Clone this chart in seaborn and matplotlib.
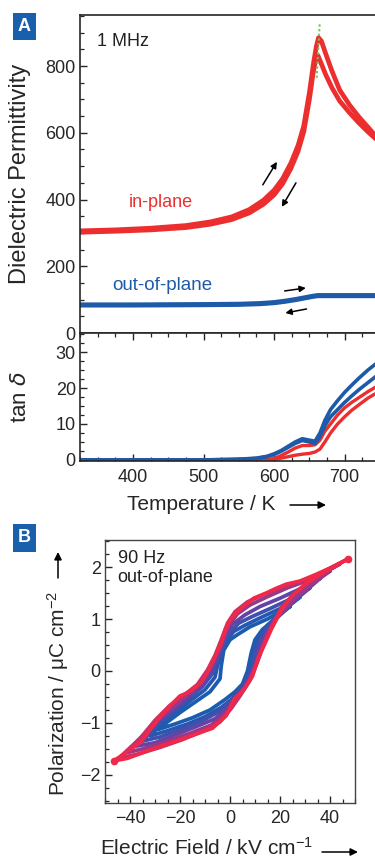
import numpy as np
import matplotlib
matplotlib.use("Agg")
import matplotlib.pyplot as plt
from matplotlib.patches import FancyArrowPatch
from matplotlib.ticker import MultipleLocator
import seaborn as sns

# ---- panel A: permittivity vs temperature (1 MHz)
T_heat = [325, 375, 425, 475, 510, 540, 565, 585, 600, 612, 624, 634, 642, 650, 656, 660, 663, 667, 673, 682, 693, 707, 720, 733, 746]
eps_heat = [306, 309, 314, 322, 333, 348, 370, 398, 428, 462, 510, 562, 620, 720, 810, 860, 885, 875, 838, 785, 728, 683, 648, 617, 585]
T_cool = [325, 375, 425, 475, 510, 540, 565, 585, 600, 612, 624, 634, 642, 650, 655, 659, 662, 666, 673, 682, 693, 707, 720, 733, 746]
eps_cool = [302, 305, 309, 316, 326, 340, 360, 386, 414, 447, 494, 545, 603, 700, 775, 820, 832, 812, 775, 735, 695, 660, 630, 603, 578]

T_out = [325, 400, 500, 550, 580, 600, 615, 630, 645, 655, 662, 670, 700, 746]
eps_out_heat = [85, 85, 86, 87, 89, 92, 96, 101, 107, 111, 113, 113, 113, 113]
eps_out_cool = [83, 83, 84, 85, 87, 90, 94, 99, 105, 109, 111, 111, 111, 111]

# ---- panel A: loss tangent
T_tan = [325, 400, 500, 550, 575, 590, 600, 610, 620, 630, 640, 650, 658, 665, 672, 680, 690, 700, 710, 720, 733, 746]
tan_out_1 = [0, 0, 0, 0.2, 0.5, 1.0, 1.7, 2.6, 3.8, 5.0, 5.9, 5.5, 5.2, 7.5, 11, 14, 16.5, 18.8, 20.8, 22.7, 25, 27]
tan_out_2 = [0, 0, 0, 0.15, 0.4, 0.9, 1.5, 2.4, 3.5, 4.6, 5.4, 5.0, 4.6, 6.5, 9.5, 12, 14, 16, 17.8, 19.5, 21.5, 23.5]
tan_in_1 = [0, 0, 0, 0, 0, 0.1, 0.4, 1.2, 2.2, 3.3, 4.0, 4.0, 4.2, 5.5, 8, 10, 12.5, 14.5, 16, 17.3, 19, 20.5]
tan_in_2 = [0, 0, 0, 0, 0, 0, 0.1, 0.5, 0.9, 1.3, 1.6, 1.8, 2.2, 3.0, 5.0, 7.5, 10, 12, 13.8, 15.3, 17.2, 18.7]

# ---- panel B: P-E loops (90 Hz, out-of-plane), smallest (blue) to largest (red)
E1 = [24, 15, 8, 3, 0, -2.5, -3.5, -4, -8, -14, -20, -25, -29, -22, -15, -8, -2, 2, 5, 7, 8.5, 10, 13, 18, 24]
P1 = [1.24, 1.0, 0.85, 0.7, 0.6, 0.4, 0.1, -0.15, -0.4, -0.6, -0.8, -0.98, -1.13, -1.02, -0.9, -0.75, -0.55, -0.4, -0.25, 0.0, 0.35, 0.6, 0.8, 1.0, 1.24]
E2 = [28, 20, 12, 6, 1.5, -1.5, -3.5, -5, -6, -10, -16, -22, -27, -32, -25, -17, -10, -3.5, 0.5, 3.5, 6, 8, 9.5, 11.5, 15, 21, 28]
P2 = [1.42, 1.2, 1.02, 0.88, 0.76, 0.58, 0.35, 0.1, -0.12, -0.36, -0.58, -0.8, -1.0, -1.25, -1.15, -1.02, -0.88, -0.7, -0.55, -0.4, -0.2, 0.05, 0.4, 0.65, 0.88, 1.15, 1.42]
E3 = [32, 24, 16, 9, 3.5, -0.5, -3, -5, -7, -11, -17, -23, -29, -35, -28, -20, -12, -5, -0.5, 3, 6.5, 9, 10.5, 13, 17, 23, 32]
P3 = [1.6, 1.38, 1.2, 1.05, 0.92, 0.72, 0.48, 0.22, -0.05, -0.3, -0.55, -0.78, -1.02, -1.35, -1.27, -1.13, -0.98, -0.8, -0.62, -0.45, -0.2, 0.08, 0.42, 0.68, 0.95, 1.25, 1.6]
E4 = [36, 28, 20, 12, 6, 1, -2, -4.5, -7.5, -11, -17, -23, -30, -38, -30, -22, -14, -6, -1, 2.5, 6.5, 9.5, 11.5, 14, 18, 25, 36]
P4 = [1.78, 1.58, 1.4, 1.24, 1.08, 0.9, 0.64, 0.32, 0.0, -0.26, -0.52, -0.74, -1.02, -1.45, -1.38, -1.23, -1.08, -0.92, -0.72, -0.52, -0.26, 0.04, 0.38, 0.68, 0.98, 1.32, 1.78]
E5 = [40, 31, 23, 15, 8, 3, -0.5, -3.5, -6.5, -10, -15, -21, -28, -34, -42, -35, -26, -16, -7.5, -1.5, 2, 6, 9.5, 12, 14.5, 19, 26, 33, 40]
P5 = [1.92, 1.74, 1.6, 1.43, 1.27, 1.1, 0.88, 0.55, 0.2, -0.1, -0.38, -0.62, -0.9, -1.2, -1.58, -1.5, -1.36, -1.2, -1.04, -0.8, -0.58, -0.32, 0.0, 0.32, 0.66, 1.05, 1.4, 1.68, 1.92]
E6 = [44, 36, 28, 21, 13, 7, 2, -1, -3.5, -6, -9, -13, -18, -24, -30, -36, -44.5,
      -37, -28, -19, -11, -4, 0.5, 4, 8, 11, 13.5, 16.5, 20.5, 26, 32, 38, 44]
P6 = [2.06, 1.86, 1.72, 1.62, 1.46, 1.33, 1.14, 0.92, 0.6, 0.3, 0.02, -0.26, -0.45, -0.66, -0.95, -1.3, -1.68,
      -1.6, -1.47, -1.32, -1.16, -0.98, -0.72, -0.48, -0.18, 0.18, 0.52, 0.85, 1.22, 1.5, 1.72, 1.9, 2.06]
E7 = [47, 40, 34.5, 28, 22.5, 18, 14.5, 9.5, 4.5, 0.5, -2, -3.5, -6, -8.5, -11.5, -14, -17, -20, -22.5, -27.5, -31.5, -35.5, -41, -46.5,
      -41, -32, -22.5, -14.5, -7, -1.5, 1.5, 5.5, 9, 11.5, 14, 16.5, 20.5, 24.5, 30, 38, 47]
P7 = [2.15, 1.98, 1.86, 1.73, 1.67, 1.58, 1.5, 1.4, 1.21, 1.02, 0.78, 0.52, 0.28, 0.02, -0.22, -0.32, -0.42, -0.48, -0.6, -0.86, -1.1, -1.36, -1.55, -1.73,
      -1.68, -1.52, -1.36, -1.23, -1.1, -0.86, -0.55, -0.36, -0.1, 0.28, 0.53, 0.8, 1.17, 1.43, 1.67, 1.92, 2.15]

RED = "#ec2e2e"
BLUE = "#1d5aa8"
BOX = "#1a5fab"

sns.set_style("ticks")
plt.rcParams["font.family"] = ["Liberation Sans", "DejaVu Sans"]
plt.rcParams["mathtext.fontset"] = "dejavusans"
plt.rcParams["mathtext.default"] = "regular"

fig = plt.figure(figsize=(3.75, 8.59), dpi=100)
W, H = 375.0, 859.0

def frame(left, top, right, bottom):
    return [left / W, 1 - bottom / H, (right - left) / W, (bottom - top) / H]

def style_ticks(ax):
    ax.tick_params(which="both", direction="in", labelsize=13, pad=3)
    ax.tick_params(which="major", length=5, width=1)
    ax.tick_params(which="minor", length=3, width=0.9)

ax1 = fig.add_axes(frame(80, 15, 387, 333))
ax2 = fig.add_axes(frame(80, 333, 387, 461), sharex=ax1)
ax3 = fig.add_axes(frame(105, 540, 355, 803))

# upper: permittivity
sns.lineplot(x=T_heat, y=eps_heat, ax=ax1, color=RED, lw=3.4, sort=False, estimator=None)
sns.lineplot(x=T_cool, y=eps_cool, ax=ax1, color=RED, lw=3.4, sort=False, estimator=None)
sns.lineplot(x=T_out, y=eps_out_heat, ax=ax1, color=BLUE, lw=3.2, sort=False, estimator=None)
sns.lineplot(x=T_out, y=eps_out_cool, ax=ax1, color=BLUE, lw=3.2, sort=False, estimator=None)
ax1.plot([664.6, 660.4], [925, 765], color="#72c05e", lw=1.4, ls=(0, (1.2, 1.2)))

ax1.set_xlim(325, 760)
ax1.set_ylim(0, 953)
ax1.yaxis.set_major_locator(MultipleLocator(200))
ax1.yaxis.set_minor_locator(MultipleLocator(50))
style_ticks(ax1)
ax1.tick_params(axis="x", which="both", bottom=False, labelbottom=False)
ax1.set_ylabel("Dielectric Permittivity", fontsize=17)
ax1.yaxis.set_label_coords(-0.16, 0.5)
for s in ax1.spines.values():
    s.set_linewidth(1.2)

ax1.text(349, 873, "1 MHz", fontsize=13, color="#222222", va="center")
ax1.text(394, 390, "in-plane", fontsize=13, color=RED, va="center")
ax1.text(370, 141, "out-of-plane", fontsize=13.5, color=BLUE, va="center")

arrow = dict(arrowstyle="-|>", color="black", lw=1.1, mutation_scale=9, shrinkA=0, shrinkB=0)
ax1.annotate("", xy=(604, 513), xytext=(584, 444), arrowprops=arrow)
ax1.annotate("", xy=(611, 378), xytext=(631, 450), arrowprops=arrow)
ax1.annotate("", xy=(645, 135), xytext=(615, 126), arrowprops=arrow)
ax1.annotate("", xy=(616, 60), xytext=(646, 72), arrowprops=arrow)

# lower: loss tangent
sns.lineplot(x=T_tan, y=tan_in_1, ax=ax2, color=RED, lw=2.4, sort=False, estimator=None)
sns.lineplot(x=T_tan, y=tan_in_2, ax=ax2, color=RED, lw=2.4, sort=False, estimator=None)
sns.lineplot(x=T_tan, y=tan_out_1, ax=ax2, color=BLUE, lw=2.6, sort=False, estimator=None)
sns.lineplot(x=T_tan, y=tan_out_2, ax=ax2, color=BLUE, lw=2.6, sort=False, estimator=None)
ax2.set_ylim(-0.3, 35.3)
ax2.xaxis.set_major_locator(MultipleLocator(100))
ax2.xaxis.set_minor_locator(MultipleLocator(25))
ax2.yaxis.set_major_locator(MultipleLocator(10))
ax2.yaxis.set_minor_locator(MultipleLocator(2.5))
style_ticks(ax2)
ax2.tick_params(which="both", top=True)
ax2.tick_params(axis="x", pad=6)
ax2.set_ylabel(r"tan $\mathit{\delta}$", fontsize=16)
ax2.yaxis.set_label_coords(-0.16, 0.5)
for s in ax2.spines.values():
    s.set_linewidth(1.2)

# panel B loops
loops = [(E1, P1), (E2, P2), (E3, P3), (E4, P4), (E5, P5), (E6, P6), (E7, P7)]
pal = sns.blend_palette(["#1b5cb0", "#2d56b0", "#6244a6", "#b0347e", "#f0284a"], len(loops))
for (e, p), c in zip(loops, pal):
    sns.lineplot(x=e, y=p, ax=ax3, color=c, lw=2.7, sort=False, estimator=None)
ax3.plot([E7[0], E7[23]], [P7[0], P7[23]], "o", color=pal[-1], ms=4.5)
ax3.set_xlim(-50, 50)
ax3.set_ylim(-2.54, 2.52)
ax3.xaxis.set_minor_locator(MultipleLocator(5))
ax3.yaxis.set_minor_locator(MultipleLocator(0.25))
ax3.set_xticks([-40, -20, 0, 20, 40])
ax3.set_xticklabels(["\u221240", "\u221220", "0", "20", "40"])
ax3.set_yticks([-2, -1, 0, 1, 2])
ax3.set_yticklabels(["\u22122", "\u22121", "0", "1", "2"])
style_ticks(ax3)
ax3.tick_params(axis="x", pad=5)
for s in ax3.spines.values():
    s.set_linewidth(1.0)
    s.set_color("#444444")
ax3.text(-45, 2.32, "90 Hz\nout-of-plane", fontsize=13, color="#222222", va="top", linespacing=1.1)

# axis titles with arrows
fig_arrow = dict(arrowstyle="-|>", color="black", lw=1.1, mutation_scale=11, shrinkA=0, shrinkB=0)
fig.text(201 / W, 1 - 505 / H, "Temperature / K", fontsize=15, ha="center", va="center")
fig.add_artist(FancyArrowPatch((290 / W, 1 - 505 / H), (326 / W, 1 - 505 / H),
                               transform=fig.transFigure, **fig_arrow))
fig.text(206 / W, 1 - 848 / H, "Electric Field / kV cm$^{-1}$", fontsize=15, ha="center", va="center")
fig.add_artist(FancyArrowPatch((322 / W, 1 - 852 / H), (358 / W, 1 - 852 / H),
                               transform=fig.transFigure, **fig_arrow))
fig.text(58 / W, 1 - 693 / H, "Polarization / \u03bcC cm$^{-2}$", fontsize=15, rotation=90,
         ha="center", va="center")
fig.add_artist(FancyArrowPatch((58 / W, 1 - 578 / H), (58 / W, 1 - 552 / H),
                               transform=fig.transFigure, **fig_arrow))

# panel letters
for letter, yc in [("A", 26.5), ("B", 538)]:
    fig.text(24.5 / W, 1 - yc / H, letter, fontsize=13, fontweight="bold", color="white",
             ha="center", va="center",
             bbox=dict(boxstyle="square,pad=0.3", facecolor=BOX, edgecolor="none"))

fig.savefig("out.png", dpi=100)
